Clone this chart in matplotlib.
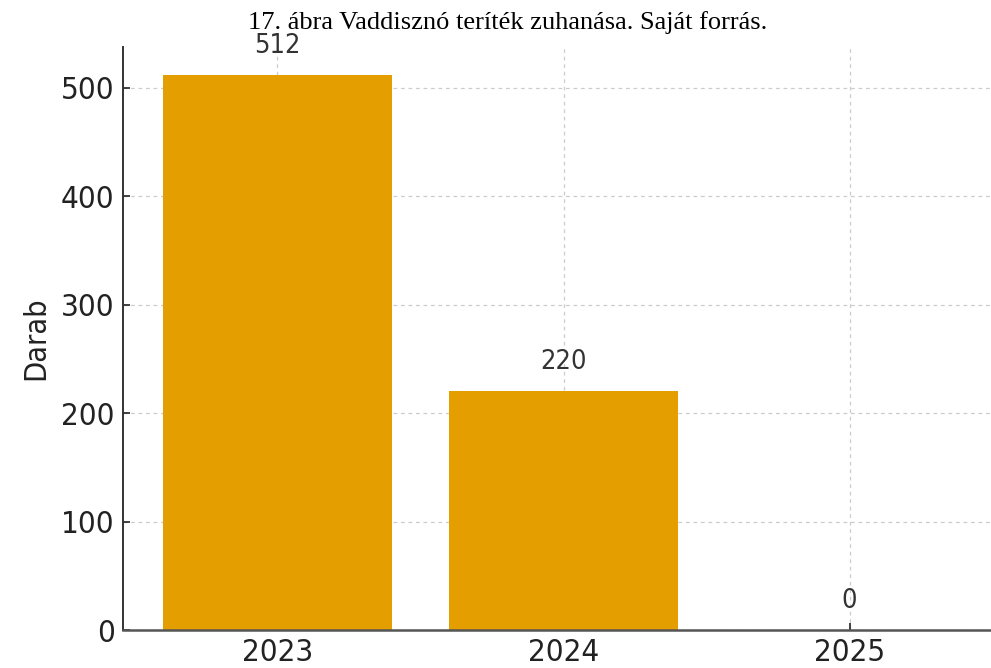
import matplotlib
matplotlib.use("Agg")
import matplotlib.pyplot as plt

years = ["2023", "2024", "2025"]
counts = [512, 220, 0]
title = "17. ábra Vaddisznó teríték zuhanása. Saját forrás."

fig = plt.figure(figsize=(9.91, 6.68), dpi=100)
# axes reaches a bit past the right edge, like the cropped original
ax = fig.add_axes([123 / 991, 38 / 668, 881 / 991, (630 - 47) / 668])

x = range(len(years))
ax.bar(x, counts, width=0.8, color="#E49E00", zorder=2)
for i, v in zip(x, counts):
    ax.annotate(str(v), (i, v), xytext=(0, 29), textcoords="offset pixels",
                ha="center", va="center", fontsize=19.5, color="#333333",
                fontstretch="condensed")

ax.set_xticks(list(x))
ax.set_xticklabels(years)
ax.set_xlim(-0.54, 2.54)
ax.set_ylim(0, 512 * 1.05)
ax.set_yticks([0, 100, 200, 300, 400, 500])
ax.set_ylabel("Darab", fontsize=22, fontstretch="condensed", labelpad=8,
              color="#222222")

ax.grid(True, linestyle=(0, (3, 3)), color="#cccccc", linewidth=0.9, zorder=0)
ax.set_axisbelow(True)
for s in ["top", "right"]:
    ax.spines[s].set_visible(False)
ax.spines["left"].set_color("#333333")
ax.spines["left"].set_linewidth(1.4)
ax.spines["bottom"].set_color("#555555")
ax.spines["bottom"].set_linewidth(1.8)
ax.tick_params(direction="in", length=5, width=1.2, labelsize=22.5,
               colors="#222222", pad=6)
for lab in ax.get_xticklabels() + ax.get_yticklabels():
    lab.set_fontstretch("condensed")

fig.text(0.512, (668 - 29) / 668, title, ha="center", va="baseline",
         fontsize=19, family="Liberation Serif")

fig.savefig("out.png", dpi=100)
